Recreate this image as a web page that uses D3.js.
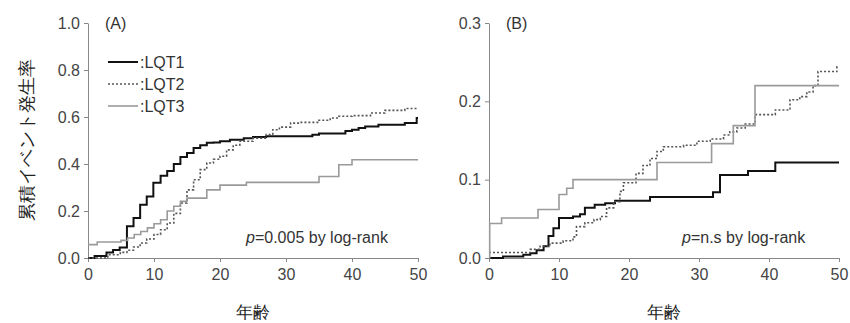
<!DOCTYPE html>
<html>
<head>
<meta charset="utf-8">
<script src="https://cdn.jsdelivr.net/npm/d3@7"></script>
<style>
  body { margin: 0; background: #fff; }
  text { font-family: "Liberation Sans", Arial, sans-serif; }
  .axis path, .axis line { stroke: #888; }
  .axis text { fill: #444; font-size: 16px; }
</style>
</head>
<body>
<svg id="chart" width="850" height="323"></svg>
<script>
// panel A : all patients
const lqt1A_age = [0, 1, 2.8, 3.8, 4.8, 5.9, 6.9, 7.9, 8.9, 9.9, 11, 12, 13, 14, 15, 16, 17, 18, 19, 20, 21.5, 23.6, 25, 27, 34, 35, 39, 40, 41, 42, 44, 48, 49.8, 50];
const lqt1A_val = [0, 0.008, 0.023, 0.034, 0.045, 0.135, 0.17, 0.227, 0.262, 0.32, 0.35, 0.37, 0.40, 0.43, 0.447, 0.468, 0.48, 0.49, 0.492, 0.497, 0.503, 0.51, 0.515, 0.518, 0.525, 0.53, 0.54, 0.546, 0.553, 0.56, 0.567, 0.574, 0.596, 0.596];

const lqt2A_age = [0, 3, 4.9, 5.9, 6.9, 7.9, 8.9, 10, 11, 12, 13, 14, 15, 16, 17, 18, 19, 20, 21, 22, 23, 25, 27, 28, 29, 30.7, 32, 35, 36.7, 38, 40, 42.8, 45, 48, 50];
const lqt2A_val = [0, 0.014, 0.024, 0.033, 0.047, 0.064, 0.081, 0.10, 0.12, 0.149, 0.19, 0.234, 0.29, 0.333, 0.376, 0.404, 0.42, 0.433, 0.46, 0.48, 0.497, 0.51, 0.525, 0.546, 0.557, 0.574, 0.577, 0.586, 0.596, 0.603, 0.606, 0.617, 0.628, 0.636, 0.638];

const lqt3A_age = [0, 1.4, 5, 6, 7, 8, 9, 10, 11, 12, 13, 14, 15, 18, 20, 24, 35, 38, 40, 50];
const lqt3A_val = [0.057, 0.068, 0.075, 0.085, 0.10, 0.113, 0.128, 0.146, 0.163, 0.20, 0.22, 0.241, 0.255, 0.29, 0.31, 0.322, 0.347, 0.397, 0.418, 0.418];

// panel B
const lqt1B_age = [0, 2, 4.9, 5.9, 6.8, 7.8, 8.5, 9.2, 10, 12, 13, 13.7, 15.1, 16.6, 18, 23, 32, 33, 37, 40.9, 50];
const lqt1B_val = [0, 0.002, 0.004, 0.006, 0.01, 0.015, 0.028, 0.038, 0.051, 0.053, 0.056, 0.064, 0.068, 0.07, 0.073, 0.078, 0.084, 0.106, 0.111, 0.122, 0.122];

const lqt2B_age = [0, 5.9, 7.3, 8.7, 10.6, 12, 12.5, 13.7, 15, 15.9, 16.8, 17.8, 18.7, 19.2, 21, 22, 23, 24, 24.9, 27.8, 29.7, 31.6, 33.5, 34.4, 35.4, 36.6, 38, 40.9, 43, 44.4, 45.4, 46.3, 47, 49.7, 50];
const lqt2B_val = [0.007, 0.011, 0.015, 0.019, 0.022, 0.027, 0.04, 0.045, 0.049, 0.053, 0.064, 0.072, 0.085, 0.096, 0.108, 0.118, 0.127, 0.136, 0.142, 0.144, 0.149, 0.152, 0.157, 0.161, 0.166, 0.171, 0.183, 0.189, 0.202, 0.206, 0.212, 0.22, 0.238, 0.244, 0.244];

const lqt3B_age = [0, 0.1, 1.8, 7, 10, 11.1, 12, 24, 31.8, 34.9, 38, 50];
const lqt3B_val = [0, 0.044, 0.051, 0.062, 0.081, 0.089, 0.10, 0.122, 0.146, 0.169, 0.22, 0.22];

const legendLabels = [":LQT1", ":LQT2", ":LQT3"];
const styles = [
  { stroke: "#111", width: 2, dash: null },
  { stroke: "#555", width: 1.6, dash: "2,2" },
  { stroke: "#9a9a9a", width: 1.6, dash: null }
];

const svg = d3.select("#chart");
const zip = (a, v) => a.map((d, i) => [d, v[i]]);

function panel(opt) {
  const x = d3.scaleLinear().domain([0, 50]).range([opt.x0, opt.x1]);
  const y = d3.scaleLinear().domain([0, opt.ymax]).range([258, 23]);

  svg.append("g").attr("class", "axis")
    .attr("transform", "translate(0,258)")
    .call(d3.axisBottom(x).tickValues([0, 10, 20, 30, 40, 50]).tickSize(4).tickSizeOuter(0).tickPadding(7));
  svg.append("g").attr("class", "axis")
    .attr("transform", `translate(${opt.x0},0)`)
    .call(d3.axisLeft(y).tickValues(opt.yticks).tickFormat(d3.format(".1f")).tickSize(4).tickSizeOuter(0).tickPadding(4));

  const line = d3.line().x(d => x(d[0])).y(d => y(d[1])).curve(d3.curveStepAfter);
  opt.series.forEach((s, i) => {
    svg.append("path")
      .datum(s)
      .attr("d", line)
      .attr("fill", "none")
      .attr("stroke", styles[i].stroke)
      .attr("stroke-width", styles[i].width)
      .attr("stroke-dasharray", styles[i].dash);
  });

  svg.append("text").attr("x", opt.x0 + 17).attr("y", 29)
    .attr("font-size", 16).attr("fill", "#333").text(opt.tag);

  svg.append("text").attr("x", (opt.x0 + opt.x1) / 2).attr("y", 318)
    .attr("text-anchor", "middle").attr("font-size", 17).attr("fill", "#222")
    .attr("font-family", "Noto Sans CJK JP").text("年齢");

  const p = svg.append("text").attr("x", opt.px).attr("y", 243)
    .attr("font-size", 16).attr("fill", "#333");
  p.append("tspan").attr("font-style", "italic").text("p");
  p.append("tspan").text(opt.ptext);
}

panel({
  x0: 88, x1: 418, ymax: 1.0, yticks: [0, 0.2, 0.4, 0.6, 0.8, 1.0], tag: "(A)",
  series: [zip(lqt1A_age, lqt1A_val), zip(lqt2A_age, lqt2A_val), zip(lqt3A_age, lqt3A_val)],
  px: 246, ptext: "=0.005 by log-rank"
});
panel({
  x0: 489, x1: 839, ymax: 0.3, yticks: [0, 0.1, 0.2, 0.3], tag: "(B)",
  series: [zip(lqt1B_age, lqt1B_val), zip(lqt2B_age, lqt2B_val), zip(lqt3B_age, lqt3B_val)],
  px: 682, ptext: "=n.s by log-rank"
});

// legend (panel A)
legendLabels.forEach((lab, i) => {
  const ly = 62 + i * 22;
  svg.append("line").attr("x1", 108).attr("x2", 138).attr("y1", ly).attr("y2", ly)
    .attr("stroke", styles[i].stroke).attr("stroke-width", styles[i].width)
    .attr("stroke-dasharray", styles[i].dash);
  svg.append("text").attr("x", 140).attr("y", ly + 6)
    .attr("font-size", 16).attr("fill", "#333").text(lab);
});

// y title
svg.append("text")
  .attr("transform", "translate(33,140) rotate(-90)")
  .attr("text-anchor", "middle").attr("font-size", 18).attr("fill", "#222")
  .attr("font-family", "Noto Sans CJK JP")
  .text("累積イベント発生率");
</script>
</body>
</html>
